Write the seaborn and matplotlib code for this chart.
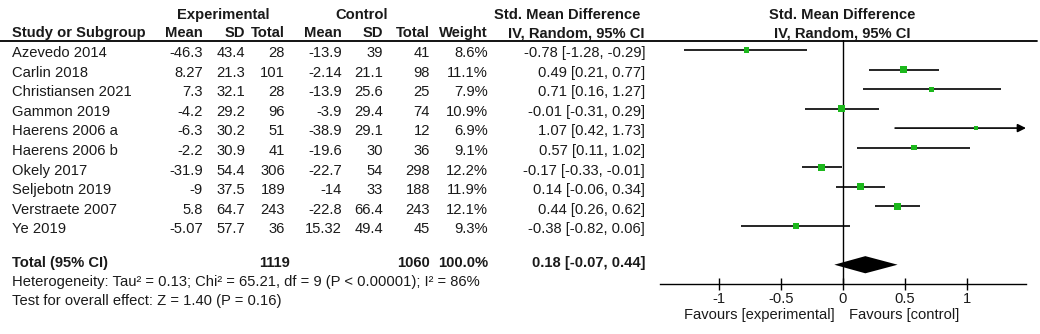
import matplotlib
matplotlib.use("Agg")
import matplotlib.pyplot as plt
import seaborn as sns
import pandas as pd

# ---------------- data ----------------
studies = ["Azevedo 2014", "Carlin 2018", "Christiansen 2021", "Gammon 2019",
           "Haerens 2006 a", "Haerens 2006 b", "Okely 2017", "Seljebotn 2019",
           "Verstraete 2007", "Ye 2019"]
exp_mean = [-46.3, 8.27, 7.3, -4.2, -6.3, -2.2, -31.9, -9, 5.8, -5.07]
exp_sd = [43.4, 21.3, 32.1, 29.2, 30.2, 30.9, 54.4, 37.5, 64.7, 57.7]
exp_n = [28, 101, 28, 96, 51, 41, 306, 189, 243, 36]
ctl_mean = [-13.9, -2.14, -13.9, -3.9, -38.9, -19.6, -22.7, -14, -22.8, 15.32]
ctl_sd = [39, 21.1, 25.6, 29.4, 29.1, 30, 54, 33, 66.4, 49.4]
ctl_n = [41, 98, 25, 74, 12, 36, 298, 188, 243, 45]
weight = [8.6, 11.1, 7.9, 10.9, 6.9, 9.1, 12.2, 11.9, 12.1, 9.3]
smd = [-0.78, 0.49, 0.71, -0.01, 1.07, 0.57, -0.17, 0.14, 0.44, -0.38]
ci_low = [-1.28, 0.21, 0.16, -0.31, 0.42, 0.11, -0.33, -0.06, 0.26, -0.82]
ci_high = [-0.29, 0.77, 1.27, 0.29, 1.73, 1.02, -0.01, 0.34, 0.62, 0.06]

total_exp_n = 1119
total_ctl_n = 1060
total_weight = 100.0
total_smd = 0.18
total_low = -0.07
total_high = 0.44

heterogeneity = "Heterogeneity: Tau\u00b2 = 0.13; Chi\u00b2 = 65.21, df = 9 (P < 0.00001); I\u00b2 = 86%"
overall = "Test for overall effect: Z = 1.40 (P = 0.16)"
x_ticks = [-1, -0.5, 0, 0.5, 1]
x_ticklabels = ["-1", "-0.5", "0", "0.5", "1"]
favours_left = "Favours [experimental]"
favours_right = "Favours [control]"

# ---------------- figure ----------------
sns.set_theme(style="white")
plt.rcParams["font.family"] = ["Liberation Sans", "DejaVu Sans"]
FS = 10.6
TXT = "#1a1a1a"

W, H = 1040, 334
fig = plt.figure(figsize=(W / 100, H / 100), dpi=100)
fig.patch.set_facecolor("white")


def P(x, y):
    return x / W, 1 - y / H


def t(x, y, s, ha="left", bold=False):
    fig.text(*P(x, y), s, ha=ha, va="center", fontsize=FS, color=TXT,
             fontweight="bold" if bold else "normal")


# headers
t(223, 15, "Experimental", ha="center", bold=True)
t(362, 15, "Control", ha="center", bold=True)
t(567, 15, "Std. Mean Difference", ha="center", bold=True)
t(842, 15, "Std. Mean Difference", ha="center", bold=True)
t(12, 33, "Study or Subgroup", bold=True)
col_x = [203, 245, 285, 342, 383, 430, 488]
for x, lab in zip(col_x, ["Mean", "SD", "Total", "Mean", "SD", "Total", "Weight"]):
    t(x, 33, lab, ha="right", bold=True)
t(645, 33, "IV, Random, 95% CI", ha="right", bold=True)
t(842, 33, "IV, Random, 95% CI", ha="center", bold=True)

# top rule
fig.add_artist(plt.Line2D([0 / W, 1037 / W], [1 - 40.5 / H] * 2,
                          transform=fig.transFigure, color="black", lw=1.3))

# study rows
row0, dy = 53, 19.6
for i, s in enumerate(studies):
    y = row0 + i * dy
    t(12, y, s)
    vals = [f"{exp_mean[i]:g}", f"{exp_sd[i]:g}", f"{exp_n[i]}",
            f"{ctl_mean[i]:g}", f"{ctl_sd[i]:g}", f"{ctl_n[i]}",
            f"{weight[i]:.1f}%"]
    for x, v in zip(col_x, vals):
        t(x, y, v, ha="right")
    t(645, y, f"{smd[i]:.2f} [{ci_low[i]:.2f}, {ci_high[i]:.2f}]", ha="right")

# totals
t(12, 263, "Total (95% CI)", bold=True)
t(290, 263, f"{total_exp_n}", ha="right", bold=True)
t(430, 263, f"{total_ctl_n}", ha="right", bold=True)
t(488, 263, f"{total_weight:.1f}%", ha="right", bold=True)
t(645, 263, f"{total_smd:.2f} [{total_low:.2f}, {total_high:.2f}]", ha="right", bold=True)
t(12, 282, heterogeneity)
t(12, 301, overall)

# ---------------- forest plot ----------------
ax = fig.add_axes([660 / W, 50 / H, 366 / W, 244 / H])
XMIN, XMAX = -1.475, 1.475
ax.set_xlim(XMIN, XMAX)
row_px = 19.52
ax.set_ylim(234 / row_px, -10 / row_px)
ax.set_facecolor("none")

df = pd.DataFrame({"study": studies, "smd": smd, "low": ci_low, "high": ci_high,
                   "weight": weight, "row": list(range(len(studies)))})

for _, r in df.iterrows():
    if r["high"] > XMAX:
        ax.annotate("", xy=(XMAX, r["row"]), xytext=(r["low"], r["row"]),
                    arrowprops=dict(arrowstyle="-|>", color="black", lw=1.2,
                                    mutation_scale=12, shrinkA=0, shrinkB=0),
                    annotation_clip=False)
    else:
        ax.hlines(r["row"], r["low"], r["high"], color="black", lw=1.2, zorder=2)

sns.scatterplot(data=df, x="smd", y="row", size="weight", sizes=(10, 26),
                marker="s", color="#1cb81c", edgecolor="none", legend=False,
                ax=ax, zorder=3)

tot_row = len(studies) + 1
h = 0.44
ax.fill([total_low, total_smd, total_high, total_smd],
        [tot_row, tot_row - h, tot_row, tot_row + h], color="black", lw=0, zorder=3)

ax.axvline(0, color="black", lw=1.0, zorder=1)

for sp in ["top", "right", "left"]:
    ax.spines[sp].set_visible(False)
ax.spines["bottom"].set_color("black")
ax.spines["bottom"].set_linewidth(1.0)
ax.set_xticks(x_ticks)
ax.set_xticklabels(x_ticklabels, fontsize=FS, color=TXT)
ax.tick_params(axis="x", direction="inout", length=8, width=1, color="black",
               bottom=True, pad=2)
ax.set_yticks([])
ax.set_xlabel("")
ax.set_ylabel("")

t(835, 315, favours_left, ha="right")
t(849, 315, favours_right, ha="left")

fig.savefig("out.png", dpi=100, facecolor="white")
